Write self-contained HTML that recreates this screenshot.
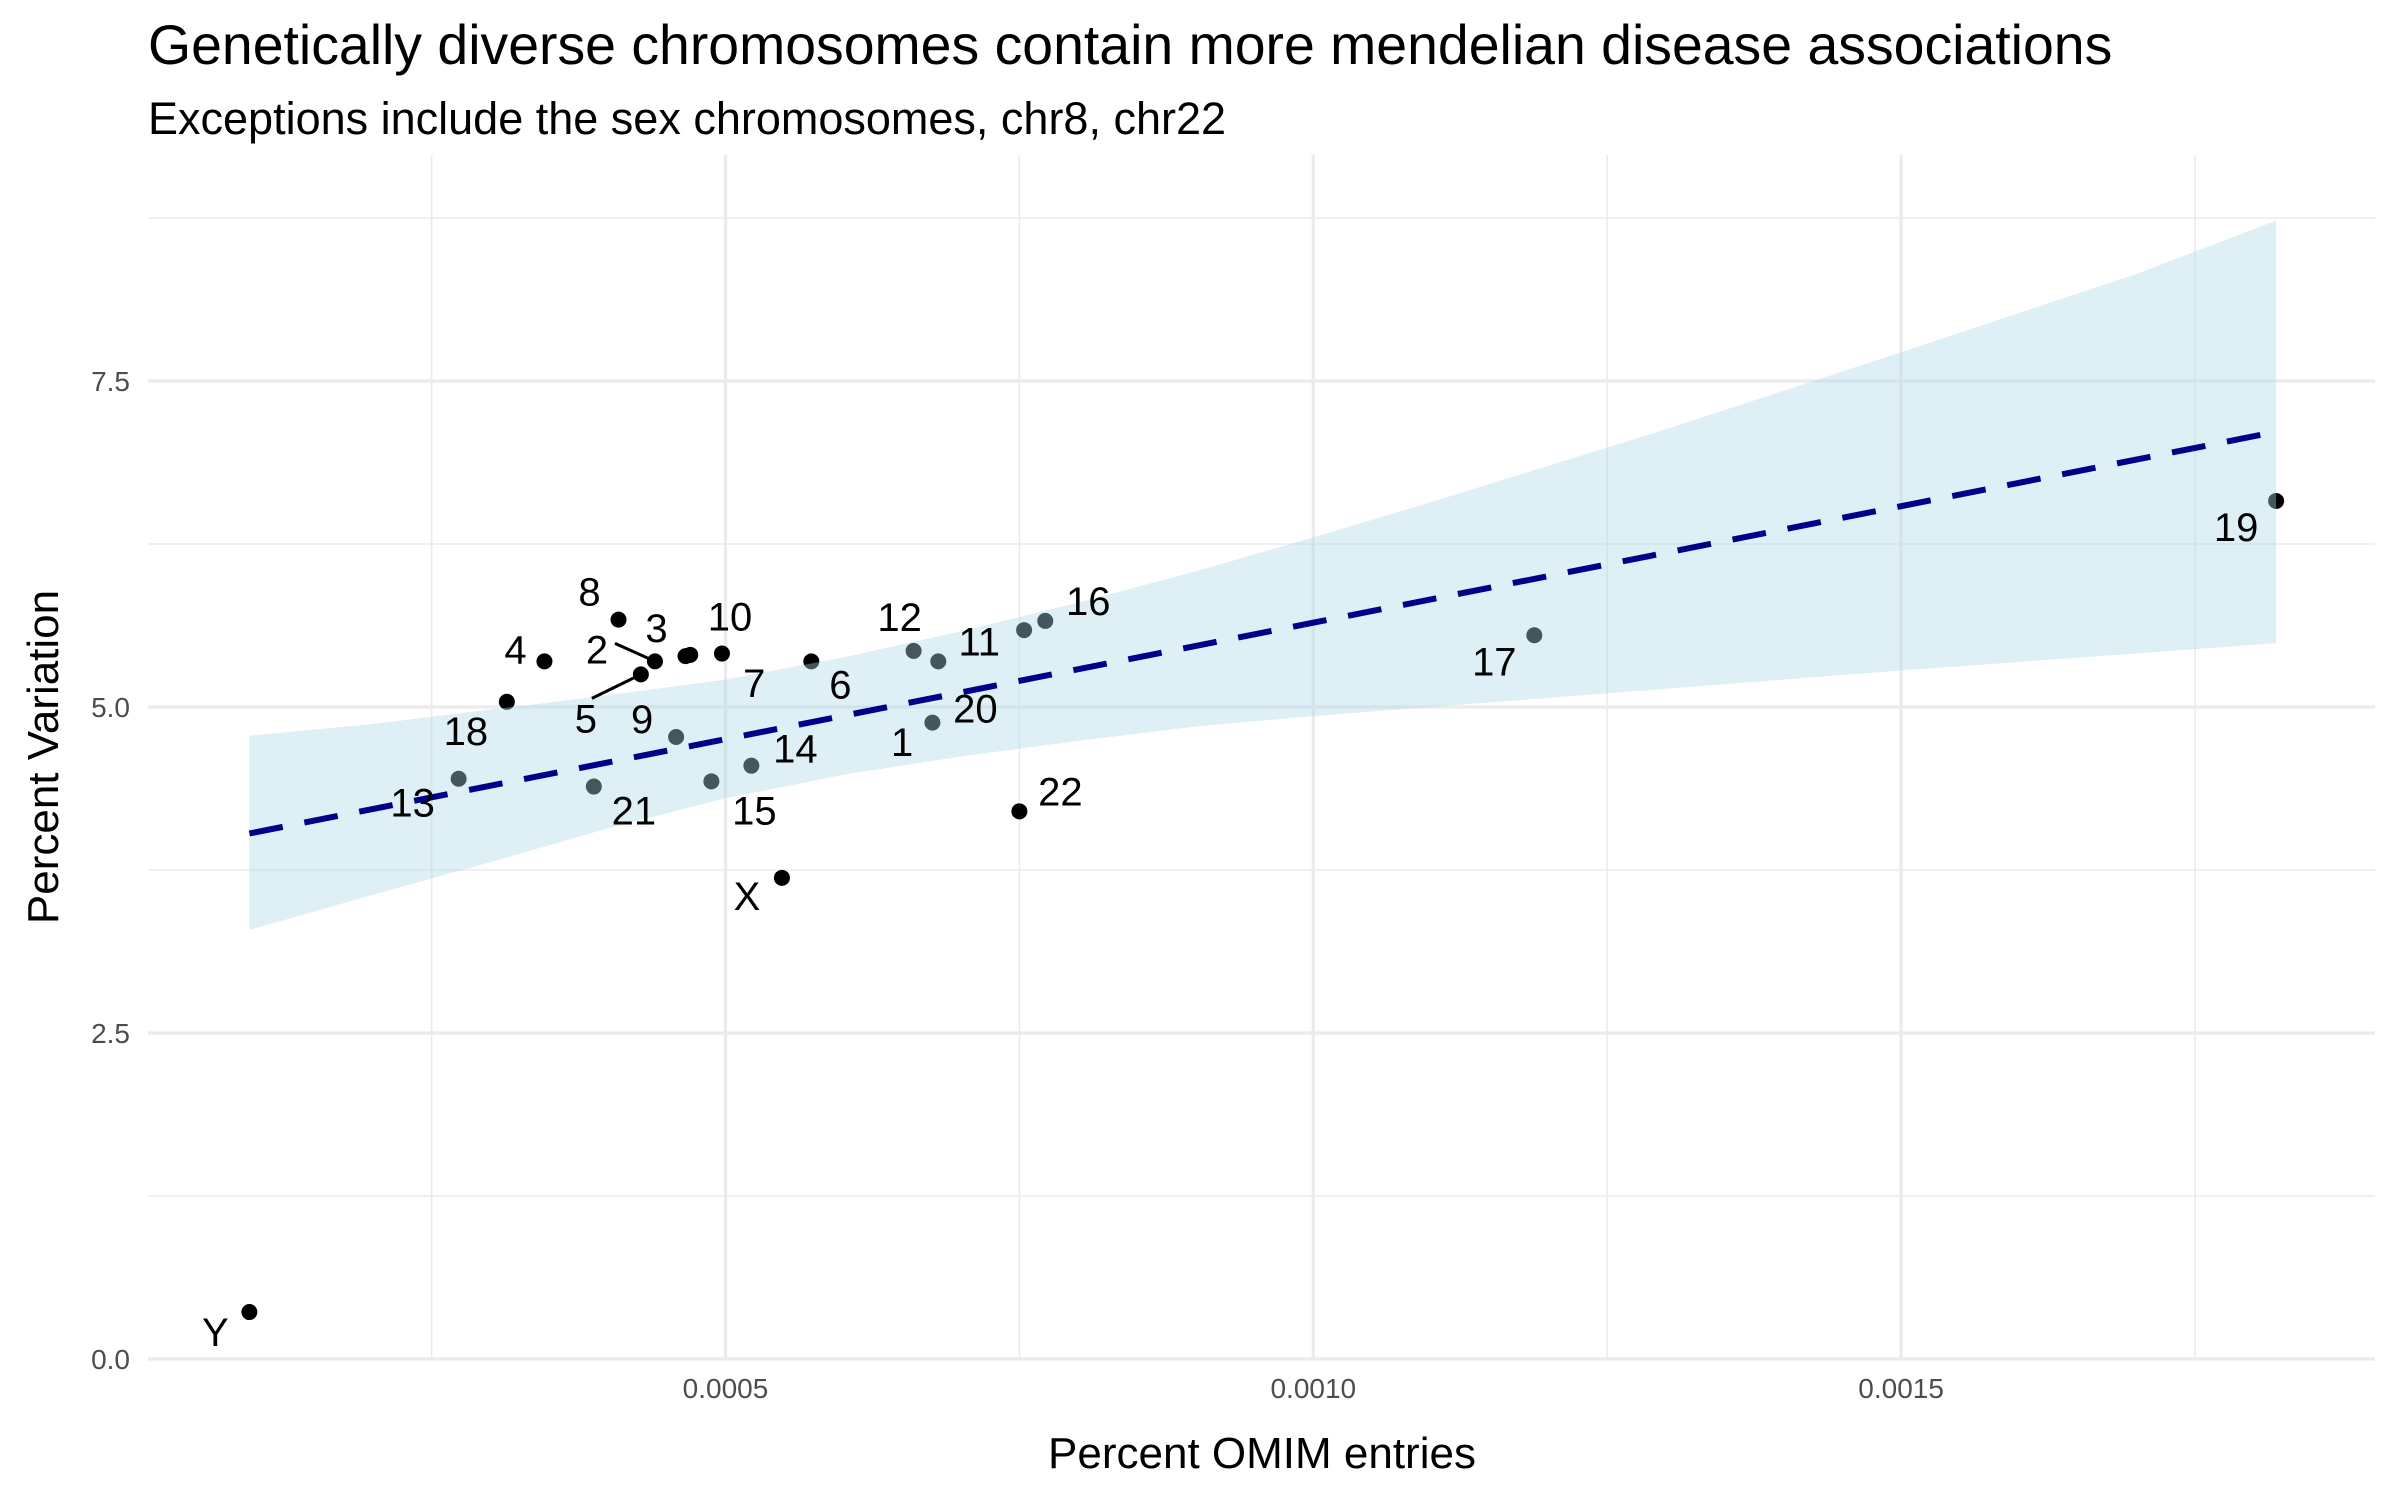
<!DOCTYPE html>
<html><head><meta charset="utf-8"><style>
html,body{margin:0;padding:0;background:#fff;}
svg{display:block;font-family:"Liberation Sans",sans-serif;}
</style></head><body>
<svg id="chart" width="2400" height="1500" viewBox="0 0 2400 1500">
<text x="148" y="64" font-size="55.4" fill="#000">Genetically diverse chromosomes contain more mendelian disease associations</text>
<text x="148" y="134" font-size="45" fill="#000">Exceptions include the sex chromosomes, chr8, chr22</text>
<g id="grid"></g>
<g id="points"></g>
<g id="ribbon"></g>
<g id="labels"></g>
<g id="axes"></g>
<text x="1262" y="1468" font-size="44" text-anchor="middle" fill="#000">Percent OMIM entries</text>
<text x="0" y="0" font-size="44" text-anchor="middle" fill="#000" transform="translate(58,757) rotate(-90)">Percent Variation</text>
</svg>
<script>
const chromLabels = ["Y","X","22","19","17","16","11","12","20","1","6","10","7","3","2","5","8","4","18","9","13","21","15","14"];
const omimValues = [0.000095,0.000548,0.00075,0.001819,0.001188,0.000772,0.000681,0.00066,0.000676,0.000754,0.000573,0.000497,0.000470,0.000466,0.00044,0.000428,0.000409,0.000346,0.000314,0.000458,0.000273,0.000388,0.000488,0.000522];
const variationValues = [0.36,3.69,4.20,6.58,5.55,5.66,5.35,5.43,4.88,5.59,5.35,5.41,5.40,5.39,5.35,5.25,5.67,5.35,5.04,4.77,4.45,4.39,4.43,4.55];
const fitX = [0.000095,0.001819];
const fitY = [4.03,7.11];
const bandX = [0.000095,0.0002,0.0003,0.0004,0.0005,0.0006,0.0007,0.0008,0.0009,0.001,0.0011,0.0012,0.0013,0.0015,0.0017,0.001819];
const bandUpper = [4.78,4.87,4.98,5.09,5.21,5.38,5.58,5.80,6.04,6.30,6.57,6.85,7.13,7.72,8.32,8.73];
const bandLower = [3.29,3.56,3.81,4.07,4.30,4.48,4.62,4.74,4.85,4.93,5.00,5.07,5.14,5.28,5.41,5.49];
const xTicks = [0.0005,0.0010,0.0015];
const xTickLabels = ["0.0005","0.0010","0.0015"];
const xMinor = [0.00025,0.00075,0.00125,0.00175];
const yTicks = [0,2.5,5,7.5];
const yTickLabels = ["0.0","2.5","5.0","7.5"];
const yMinor = [1.25,3.75,6.25,8.75];
// label offsets in px (layout only)
const labelDx = [-34,-35,41,-40,-40,43,41,-14,43,-122,29,8,64,-29,-58,-55,-29,-29,-41,-34,-46,40,43,44];
const labelDy = [20,18,-20,26,26,-20,-20,-34,-14,112,23,-37,28,-28,-12,44,-28,-12,29,-18,24,24,29,-17];

const NS="http://www.w3.org/2000/svg";
const L=148,R=2375,T=155,B=1359;
function sx(v){return 137.7+v*1175600;}
function sy(v){return 1359-v*130.4;}
function mk(tag,attrs,parent){const e=document.createElementNS(NS,tag);for(const k in attrs)e.setAttribute(k,attrs[k]);parent.appendChild(e);return e;}
const grid=document.getElementById('grid'),pts=document.getElementById('points'),rib=document.getElementById('ribbon'),lab=document.getElementById('labels'),axes=document.getElementById('axes');

xMinor.forEach(v=>{const e=mk('line',{x1:sx(v),x2:sx(v),y1:T,y2:B,stroke:'#ebebeb','stroke-width':1.6},grid);

});
yMinor.forEach(v=>{const e=mk('line',{x1:L,x2:R,y1:sy(v),y2:sy(v),stroke:'#ebebeb','stroke-width':1.6},grid);

});
xTicks.forEach((v,i)=>{const e=mk('line',{x1:sx(v),x2:sx(v),y1:T,y2:B,stroke:'#ebebeb','stroke-width':3.2},grid);


const t=mk('text',{x:sx(v),y:1398,'font-size':28,'text-anchor':'middle',fill:'#4d4d4d'},axes);t.textContent=xTickLabels[i];

});
yTicks.forEach((v,i)=>{const e=mk('line',{x1:L,x2:R,y1:sy(v),y2:sy(v),stroke:'#ebebeb','stroke-width':3.2},grid);


const t=mk('text',{x:130,y:sy(v)+10,'font-size':28,'text-anchor':'end',fill:'#4d4d4d'},axes);t.textContent=yTickLabels[i];

});

chromLabels.forEach((c,i)=>{const e=mk('circle',{cx:sx(omimValues[i]),cy:sy(variationValues[i]),r:8,fill:'#000'},pts);

});

let d='';bandX.forEach((x,i)=>{d+=(i?'L':'M')+sx(x)+','+sy(bandUpper[i]);});
for(let i=bandX.length-1;i>=0;i--)d+='L'+sx(bandX[i])+','+sy(bandLower[i]);d+='Z';
const band=mk('path',{d:d,fill:'#add8e6','fill-opacity':0.4},rib);


const fl=mk('line',{x1:sx(fitX[0]),y1:sy(fitY[0]),x2:sx(fitX[1]),y2:sy(fitY[1]),stroke:'#00008b','stroke-width':6,'stroke-dasharray':'34,22'},rib);



chromLabels.forEach((c,i)=>{const px=sx(omimValues[i]),py=sy(variationValues[i]);
const lx=px+labelDx[i],ly=py+labelDy[i];
if(c==='2'||c==='5'){const s=mk('line',{x1:lx+(c==='2'?18:6),y1:ly+(c==='2'?-6:-20),x2:px,y2:py,stroke:'#000','stroke-width':3},lab);

}
const t=mk('text',{x:lx,y:ly+14,'font-size':40,'text-anchor':'middle',fill:'#000'},lab);t.textContent=c;

});
</script>
</body></html>
